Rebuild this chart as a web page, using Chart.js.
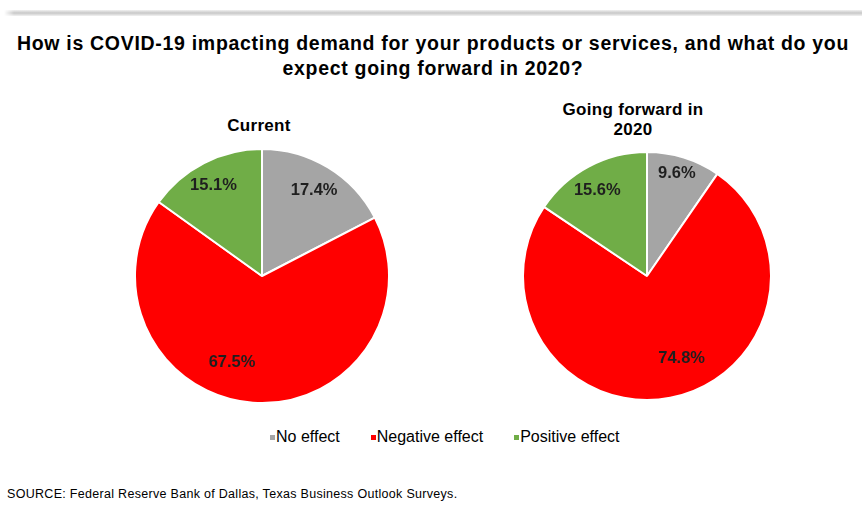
<!DOCTYPE html>
<html>
<head>
<meta charset="utf-8">
<script src="https://cdn.jsdelivr.net/npm/chart.js@4/dist/chart.umd.min.js"></script>
<style>
    html, body { margin: 0; padding: 0; background: #fff; }
    body { width: 862px; height: 506px; position: relative; overflow: hidden; font-family: "Liberation Sans", Arial, sans-serif; color: #000; }
    .topline { position: absolute; left: 4px; right: 0; top: 10px; height: 6px;
        background: linear-gradient(to bottom, #f0f0f0, #c8c8c8 50%, #f2f2f2);
        -webkit-mask-image: linear-gradient(to right, transparent, #000 10px); mask-image: linear-gradient(to right, transparent, #000 10px); }
    .title { position: absolute; left: 0; width: 866px; top: 31px; text-align: center; font-weight: bold; font-size: 19.5px; line-height: 25px; letter-spacing: 0.7px; }
    .sub { position: absolute; text-align: center; font-weight: bold; font-size: 17px; line-height: 20px; letter-spacing: 0.3px; }
    canvas { position: absolute; }
    .legend { position: absolute; left: 270px; top: 427px; display: flex; font-size: 16px; line-height: 20px; }
    .legend span.item { display: flex; align-items: center; margin-right: 31px; }
    .legend i { display: inline-block; width: 5px; height: 5px; margin-right: 1px; }
    .source { position: absolute; left: 7px; top: 487px; font-size: 12.5px; line-height: 15px; letter-spacing: 0.3px; }
</style>
</head>
<body>
<div class="topline"></div>
<div class="title">How is COVID-19 impacting demand for your products or services, and what do you<br>expect going forward in 2020?</div>
<div class="sub" id="subLeft" style="left: 199px; width: 120px; top: 116px;"></div>
<div class="sub" id="subRight" style="left: 553px; width: 160px; top: 100px;"></div>
<canvas id="currentChart" width="256" height="256" style="left: 134px; top: 148px;"></canvas>
<canvas id="forwardChart" width="250" height="250" style="left: 522px; top: 151px;"></canvas>
<div class="legend" id="legend"></div>
<div class="source">SOURCE: Federal Reserve Bank of Dallas, Texas Business Outlook Surveys.</div>

<script>
    // categories and survey shares (percent of respondents)
    const categorias = ['No effect', 'Negative effect', 'Positive effect'];
    const cores = ['#A5A5A5', '#FF0000', '#70AD47'];
    const atual = [17.4, 67.5, 15.1];
    const futuro = [9.6, 74.8, 15.6];
    const titulos = [['Current'], ['Going forward in', '2020']];

    // where each percentage sits: [fraction of radius, angle nudge in degrees]
    const posAtual = [[0.79, 0], [0.72, 15], [0.81, -1]];
    const posFuturo = [[0.86, -1], [0.72, -12], [0.80, -2]];

    document.getElementById('subLeft').innerHTML = titulos[0].join('<br>');
    document.getElementById('subRight').innerHTML = titulos[1].join('<br>');

    const legenda = document.getElementById('legend');
    categorias.forEach(function(nome, i) {
        const item = document.createElement('span');
        item.className = 'item';
        item.innerHTML = '<i style="background:' + cores[i] + '"></i>' + nome;
        legenda.appendChild(item);
    });

    // percentage labels inside each slice
    const rotulos = {
        id: 'rotulos',
        afterDatasetsDraw: function(chart, args, opts) {
            const ctx = chart.ctx;
            const meta = chart.getDatasetMeta(0);
            const valores = chart.data.datasets[0].data;
            ctx.save();
            ctx.font = 'bold 16.5px "Liberation Sans", Arial, sans-serif';
            ctx.fillStyle = '#1f1f1f';
            ctx.textAlign = 'center';
            ctx.textBaseline = 'middle';
            meta.data.forEach(function(arc, i) {
                const p = arc.getProps(['x', 'y', 'startAngle', 'endAngle', 'outerRadius'], true);
                const ajuste = opts.pos[i];
                const ang = (p.startAngle + p.endAngle) / 2 + ajuste[1] * Math.PI / 180;
                const r = p.outerRadius * ajuste[0];
                ctx.fillText(valores[i].toFixed(1) + '%', p.x + Math.cos(ang) * r, p.y + Math.sin(ang) * r);
            });
            ctx.restore();
        }
    };

    function criarPizza(id, dados, pos) {
        const ctx = document.getElementById(id).getContext('2d');
        return new Chart(ctx, {
            type: 'pie',
            data: {
                labels: categorias,
                datasets: [{
                    data: dados,
                    backgroundColor: cores,
                    borderColor: '#ffffff',
                    borderWidth: 2
                }]
            },
            options: {
                responsive: false,
                animation: false,
                layout: { padding: 0 },
                plugins: {
                    legend: { display: false },
                    tooltip: { enabled: false },
                    rotulos: { pos: pos }
                }
            },
            plugins: [rotulos]
        });
    }

    criarPizza('currentChart', atual, posAtual);
    criarPizza('forwardChart', futuro, posFuturo);
</script>
</body>
</html>
